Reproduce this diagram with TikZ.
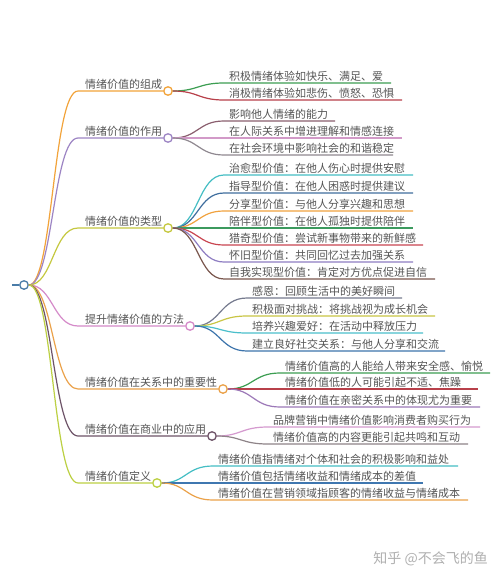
\documentclass[tikz,border=0pt]{standalone}
\usepackage{fontspec}
\newfontfamily\cjk{Noto Sans CJK SC}
\definecolor{txtgray}{HTML}{555555}
\definecolor{rootc}{HTML}{4A7CA8}
\definecolor{cA}{HTML}{F2A33A}
\definecolor{cB}{HTML}{9D85C4}
\definecolor{cC}{HTML}{C5C83F}
\definecolor{cD}{HTML}{D58AC9}
\definecolor{cE}{HTML}{EBA24A}
\definecolor{cF}{HTML}{6E5468}
\definecolor{cG}{HTML}{BCD043}
\definecolor{kgreen}{HTML}{3C9E52}
\definecolor{kred}{HTML}{B8404A}
\definecolor{kmauve}{HTML}{8A5E6E}
\definecolor{kpink}{HTML}{D29AC8}
\definecolor{kgray}{HTML}{8F8890}
\definecolor{kteal}{HTML}{45BEC4}
\definecolor{kblue}{HTML}{3F6E9E}
\definecolor{korange}{HTML}{F1A23E}
\definecolor{kgreen2}{HTML}{3C9A5E}
\definecolor{kred2}{HTML}{C94550}
\definecolor{kpurple}{HTML}{8E7DC2}
\definecolor{kbrown}{HTML}{7A574E}
\definecolor{kslate}{HTML}{757A8E}
\definecolor{kolive}{HTML}{C9C544}
\definecolor{kteal2}{HTML}{4BBFCB}
\definecolor{kblue2}{HTML}{3D74AC}
\definecolor{kpurple2}{HTML}{9C78B8}
\definecolor{kpink2}{HTML}{D59ACF}
\definecolor{kgray2}{HTML}{8E8488}
\definecolor{kblue3}{HTML}{3F77B0}
\definecolor{wmark}{HTML}{B0B0B0}
\tikzset{
  txt/.style={font=\cjk\fontsize{11}{13}\selectfont, text=txtgray, inner sep=0pt, anchor=base west},
  dot/.style={circle, draw=#1, fill=white, line width=1.3pt, minimum size=8.5pt, inner sep=0pt},
  br/.style={draw=#1, line width=1.2pt},
}
\begin{document}
\begin{tikzpicture}[x=1pt,y=-1pt]
\useasboundingbox[fill=white] (0,0) rectangle (500,570);
% root
\coordinate (rs) at (12,285);
\node[dot=rootc] (root) at (24,285) {};
\draw[br=rootc] (rs) -- (root.west);

% ---------- level 1 ----------
\coordinate (s1) at (78,91);
\coordinate (s2) at (78,138);
\coordinate (s3) at (78,228);
\coordinate (s4) at (78,326);
\coordinate (s5) at (78,389);
\coordinate (s6) at (78,436);
\coordinate (s7) at (78,483);
\node[dot=cA] (d1) at (168,91) {};
\node[dot=cB] (d2) at (168,138) {};
\node[dot=cC] (d3) at (168,228) {};
\node[dot=cD] (d4) at (190,326) {};
\node[dot=cE] (d5) at (223,389) {};
\node[dot=cF] (d6) at (212,436) {};
\node[dot=cG] (d7) at (157,483) {};
\node[txt] (t1) at (85,88) {情绪价值的组成};
\node[txt] (t2) at (85,135) {情绪价值的作用};
\node[txt] (t3) at (85,225) {情绪价值的类型};
\node[txt] (t4) at (85,323) {提升情绪价值的方法};
\node[txt] (t5) at (85,386) {情绪价值在关系中的重要性};
\node[txt] (t6) at (85,433) {情绪价值在商业中的应用};
\node[txt] (t7) at (85,480) {情绪价值定义};
\draw[br=cA] (root.east) .. controls (53,285) and (53,91) .. (s1) -- (d1.west);
\draw[br=cB] (root.east) .. controls (53,285) and (53,138) .. (s2) -- (d2.west);
\draw[br=cC] (root.east) .. controls (53,285) and (53,228) .. (s3) -- (d3.west);
\draw[br=cD] (root.east) .. controls (53,285) and (53,326) .. (s4) -- (d4.west);
\draw[br=cE] (root.east) .. controls (53,285) and (53,389) .. (s5) -- (d5.west);
\draw[br=cF] (root.east) .. controls (53,285) and (53,436) .. (s6) -- (d6.west);
\draw[br=cG] (root.east) .. controls (53,285) and (53,483) .. (s7) -- (d7.west);

% ---------- branch 1 ----------
\coordinate (a1s) at (224,83);  \coordinate (a1e) at (391,83);
\coordinate (a2s) at (224,100); \coordinate (a2e) at (402,100);
\node[txt] at (229,80) {积极情绪体验如快乐、满足、爱};
\node[txt] at (229,97) {消极情绪体验如悲伤、愤怒、恐惧};
\draw[br=kgreen] (d1.east) .. controls (198,91) and (198,83) .. (a1s) -- (a1e);
\draw[br=kred] (d1.east) .. controls (198,91) and (198,100) .. (a2s) -- (a2e);

% ---------- branch 2 ----------
\coordinate (b1s) at (224,121); \coordinate (b1e) at (335,121);
\coordinate (b2s) at (224,138); \coordinate (b2e) at (402,138);
\coordinate (b3s) at (224,155); \coordinate (b3e) at (393,155);
\node[txt] at (229,118) {影响他人情绪的能力};
\node[txt] at (229,135) {在人际关系中增进理解和情感连接};
\node[txt] at (229,152) {在社会环境中影响社会的和谐稳定};
\draw[br=kmauve] (d2.east) .. controls (198,138) and (198,121) .. (b1s) -- (b1e);
\draw[br=kpink] (d2.east) -- (b2s) -- (b2e);
\draw[br=kgray] (d2.east) .. controls (198,138) and (198,155) .. (b3s) -- (b3e);

% ---------- branch 3 ----------
\coordinate (c1s) at (224,175); \coordinate (c1e) at (413,175);
\coordinate (c2s) at (224,193); \coordinate (c2e) at (413,193);
\coordinate (c3s) at (224,211); \coordinate (c3e) at (413,211);
\coordinate (c4s) at (224,228); \coordinate (c4e) at (413,228);
\coordinate (c5s) at (224,245); \coordinate (c5e) at (423,245);
\coordinate (c6s) at (224,262); \coordinate (c6e) at (413,262);
\coordinate (c7s) at (224,279); \coordinate (c7e) at (435,279);
\node[txt] at (229,172) {治愈型价值：在他人伤心时提供安慰};
\node[txt] at (229,190) {指导型价值：在他人困惑时提供建议};
\node[txt] at (229,208) {分享型价值：与他人分享兴趣和思想};
\node[txt] at (229,225) {陪伴型价值：在他人孤独时提供陪伴};
\node[txt] at (229,242) {猎奇型价值：尝试新事物带来的新鲜感};
\node[txt] at (229,259) {怀旧型价值：共同回忆过去加强关系};
\node[txt] at (229,276) {自我实现型价值：肯定对方优点促进自信};
\draw[br=kteal] (d3.east) .. controls (198,228) and (198,175) .. (c1s) -- (c1e);
\draw[br=kblue] (d3.east) .. controls (198,228) and (198,193) .. (c2s) -- (c2e);
\draw[br=korange] (d3.east) .. controls (198,228) and (198,211) .. (c3s) -- (c3e);
\draw[br=kgreen2] (d3.east) -- (c4s) -- (c4e);
\draw[br=kred2] (d3.east) .. controls (198,228) and (198,245) .. (c5s) -- (c5e);
\draw[br=kpurple] (d3.east) .. controls (198,228) and (198,262) .. (c6s) -- (c6e);
\draw[br=kbrown] (d3.east) .. controls (198,228) and (198,279) .. (c7s) -- (c7e);

% ---------- branch 4 ----------
\coordinate (e1s) at (247,298); \coordinate (e1e) at (402,298);
\coordinate (e2s) at (247,316); \coordinate (e2e) at (435,316);
\coordinate (e3s) at (247,333); \coordinate (e3e) at (423,333);
\coordinate (e4s) at (247,351); \coordinate (e4e) at (445,351);
\node[txt] at (252,295) {感恩：回顾生活中的美好瞬间};
\node[txt] at (252,313) {积极面对挑战：将挑战视为成长机会};
\node[txt] at (252,330) {培养兴趣爱好：在活动中释放压力};
\node[txt] at (252,348) {建立良好社交关系：与他人分享和交流};
\draw[br=kslate] (d4.east) .. controls (220,326) and (220,298) .. (e1s) -- (e1e);
\draw[br=kolive] (d4.east) .. controls (220,326) and (220,316) .. (e2s) -- (e2e);
\draw[br=kteal2] (d4.east) .. controls (220,326) and (220,333) .. (e3s) -- (e3e);
\draw[br=kblue2] (d4.east) .. controls (220,326) and (220,351) .. (e4s) -- (e4e);

% ---------- branch 5 ----------
\coordinate (f1s) at (280,373); \coordinate (f1e) at (490,373);
\coordinate (f2s) at (280,389); \coordinate (f2e) at (478,389);
\coordinate (f3s) at (280,407); \coordinate (f3e) at (480,407);
\node[txt] at (285,370) {情绪价值高的人能给人带来安全感、愉悦};
\node[txt] at (285,386) {情绪价值低的人可能引起不适、焦躁};
\node[txt] at (285,404) {情绪价值在亲密关系中的体现尤为重要};
\draw[br=kgreen] (d5.east) .. controls (253,389) and (253,373) .. (f1s) -- (f1e);
\draw[br=kred] (d5.east) -- (f2s) -- (f2e);
\draw[br=kpurple2] (d5.east) .. controls (253,389) and (253,407) .. (f3s) -- (f3e);

% ---------- branch 6 ----------
\coordinate (g1s) at (268,427); \coordinate (g1e) at (480,427);
\coordinate (g2s) at (268,444); \coordinate (g2e) at (468,444);
\node[txt] at (273,424) {品牌营销中情绪价值影响消费者购买行为};
\node[txt] at (273,441) {情绪价值高的内容更能引起共鸣和互动};
\draw[br=kpink2] (d6.east) .. controls (241,436) and (241,427) .. (g1s) -- (g1e);
\draw[br=kgray2] (d6.east) .. controls (241,436) and (241,444) .. (g2s) -- (g2e);

% ---------- branch 7 ----------
\coordinate (h1s) at (213,466); \coordinate (h1e) at (458,466);
\coordinate (h2s) at (213,483); \coordinate (h2e) at (423,483);
\coordinate (h3s) at (213,500); \coordinate (h3e) at (468,500);
\node[txt] at (218,463) {情绪价值指情绪对个体和社会的积极影响和益处};
\node[txt] at (218,480) {情绪价值包括情绪收益和情绪成本的差值};
\node[txt] at (218,497) {情绪价值在营销领域指顾客的情绪收益与情绪成本};
\draw[br=kteal] (d7.east) .. controls (186,483) and (186,466) .. (h1s) -- (h1e);
\draw[br=kblue3] (d7.east) -- (h2s) -- (h2e);
\draw[br=cE] (d7.east) .. controls (186,483) and (186,500) .. (h3s) -- (h3e);

% watermark
\node[font=\cjk\fontsize{14}{16}\selectfont, text=wmark, inner sep=0pt, anchor=base east] (wm) at (488,563) {知乎 @不会飞的鱼};
\end{tikzpicture}
\end{document}
